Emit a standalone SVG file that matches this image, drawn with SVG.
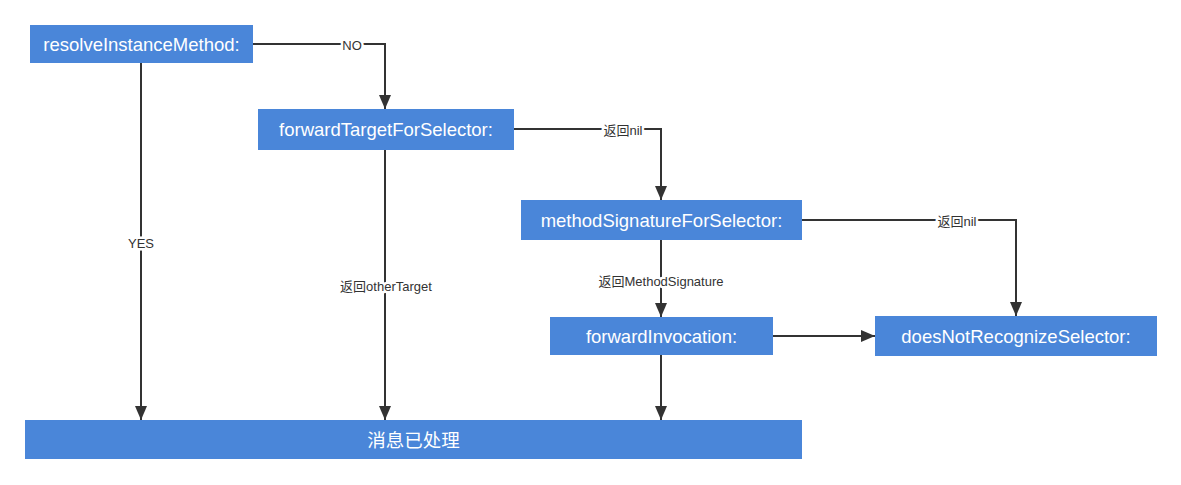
<svg xmlns="http://www.w3.org/2000/svg" width="1181" height="485" viewBox="0 0 1181 485">
<style>
.box{fill:#4a86d9;}
.bt{fill:#ffffff;font-family:"Liberation Sans","Noto Sans CJK SC",sans-serif;font-size:18.5px;text-anchor:middle;dominant-baseline:central;}
.ln{fill:none;stroke:#333333;stroke-width:2;}
.lb{fill:#333333;font-family:"Liberation Sans","Noto Sans CJK SC",sans-serif;font-size:13px;text-anchor:middle;dominant-baseline:central;stroke:#ffffff;stroke-width:5;paint-order:stroke;stroke-linejoin:round;}
</style>
<defs>
<marker id="arr" markerUnits="userSpaceOnUse" markerWidth="14" markerHeight="14" refX="14" refY="6" orient="auto" viewBox="0 0 14 12">
<path d="M0,0 L14,6 L0,12 Z" fill="#333333"/>
</marker>
</defs>
<rect width="1181" height="485" fill="#ffffff"/>
<g id="connectors">
<path class="ln" d="M253,44 H385 V109" marker-end="url(#arr)"/>
<path class="ln" d="M141,63 V420" marker-end="url(#arr)"/>
<path class="ln" d="M385,150 V420" marker-end="url(#arr)"/>
<path class="ln" d="M514,129 H661 V200" marker-end="url(#arr)"/>
<path class="ln" d="M661,240 V317" marker-end="url(#arr)"/>
<path class="ln" d="M802,220 H1016 V316" marker-end="url(#arr)"/>
<path class="ln" d="M773,336 H875" marker-end="url(#arr)"/>
<path class="ln" d="M661,355 V420" marker-end="url(#arr)"/>
<text class="lb" x="352" y="45">NO</text>
<text class="lb" x="141" y="243">YES</text>
<text class="lb" x="386" y="286">返回otherTarget</text>
<text class="lb" x="623" y="130">返回nil</text>
<text class="lb" x="957" y="221">返回nil</text>
<text class="lb" x="661" y="281">返回MethodSignature</text>
</g>
<g id="resolveInstanceMethod">
<rect class="box" x="30" y="25" width="223" height="38"/>
<text class="bt" x="141.5" y="44">resolveInstanceMethod:</text>
</g>
<g id="forwardTargetForSelector">
<rect class="box" x="258" y="109" width="256" height="41"/>
<text class="bt" x="386" y="129.5">forwardTargetForSelector:</text>
</g>
<g id="methodSignatureForSelector">
<rect class="box" x="521" y="200" width="281" height="40"/>
<text class="bt" x="661.5" y="220">methodSignatureForSelector:</text>
</g>
<g id="forwardInvocation">
<rect class="box" x="550" y="317" width="223" height="38"/>
<text class="bt" x="661.5" y="336">forwardInvocation:</text>
</g>
<g id="doesNotRecognizeSelector">
<rect class="box" x="875" y="316" width="282" height="40"/>
<text class="bt" x="1016" y="336">doesNotRecognizeSelector:</text>
</g>
<g id="handled">
<rect class="box" x="25" y="420" width="777" height="39"/>
<text class="bt" x="413.5" y="440">消息已处理</text>
</g>
</svg>
